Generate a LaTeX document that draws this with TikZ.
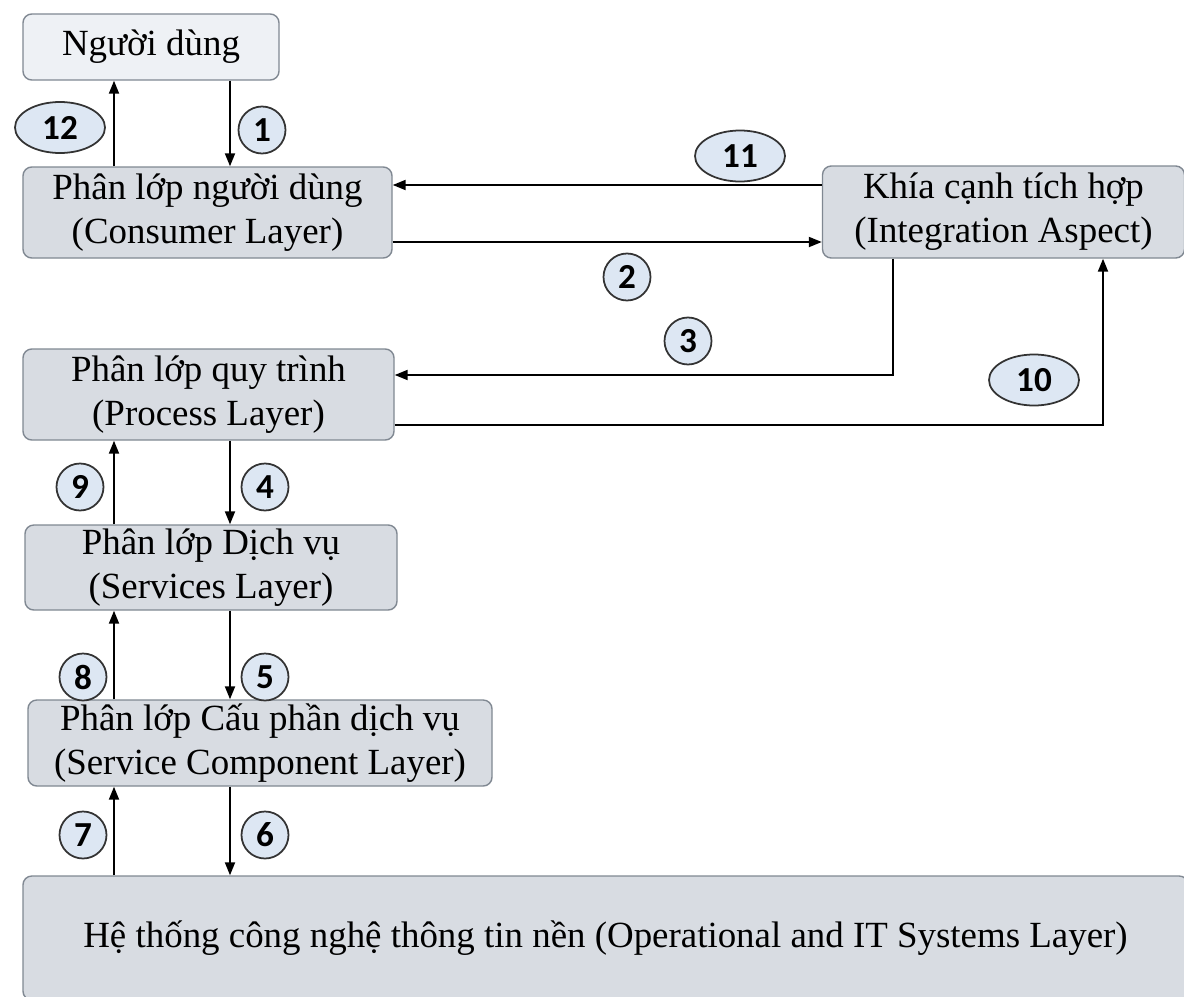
\documentclass[tikz,border=0pt]{standalone}
\usepackage{fontspec}
\setmainfont{Liberation Serif}
\newfontfamily\numfont{Carlito}
\usetikzlibrary{shapes.geometric,arrows.meta}

\definecolor{layerfill}{RGB}{216,220,226}
\definecolor{userfill}{RGB}{238,241,245}
\definecolor{edgegray}{RGB}{128,136,146}
\definecolor{numfill}{RGB}{221,231,243}

\begin{document}
\begin{tikzpicture}[
    layer/.style={draw=edgegray, line width=0.8pt, fill=layerfill, rounded corners=5pt,
        align=center, inner sep=0pt, font=\fontsize{21}{25}\selectfont},
    userbox/.style={layer, fill=userfill},
    num/.style={circle, draw=black!80, line width=1pt, fill=numfill, inner sep=0pt,
        minimum size=0.94cm, font=\numfont\bfseries\fontsize{20}{20}\selectfont},
    numoval/.style={num, ellipse, minimum width=1.8cm, minimum height=1.02cm},
    flow/.style={-{Triangle[length=2.6mm,width=2mm]}, line width=1.1pt}
]
\useasboundingbox (0,0) rectangle (23.68,-19.92);

% Boxes
\node[userbox, minimum width=5.12cm, minimum height=1.32cm] (nd) at (3.02,-0.94) {Người dùng};
\node[layer, minimum width=7.38cm, minimum height=1.82cm] (cl) at (4.15,-4.25)
    {Phân lớp người dùng\\(Consumer Layer)};
\node[layer, minimum width=7.24cm, minimum height=1.84cm] (ia) at (20.07,-4.24)
    {Khía cạnh tích hợp\\(Integration Aspect)};
\node[layer, minimum width=7.42cm, minimum height=1.82cm] (pl) at (4.17,-7.89)
    {Phân lớp quy trình\\(Process Layer)};
\node[layer, minimum width=7.44cm, minimum height=1.7cm] (sl) at (4.22,-11.35)
    {Phân lớp Dịch vụ\\(Services Layer)};
\node[layer, minimum width=9.28cm, minimum height=1.72cm] (sc) at (5.2,-14.86)
    {Phân lớp Cấu phần dịch vụ\\(Service Component Layer)};
\node[layer, minimum width=23.3cm, minimum height=2.48cm] (os) at (12.11,-18.76)
    {Hệ thống công nghệ thông tin nền (Operational and IT Systems Layer)};

% Axes of the vertical arrows and rows of the horizontal ones
\coordinate (up) at (2.28,0);
\coordinate (dn) at (4.6,0);
\coordinate (r11) at (0,-3.7);
\coordinate (r2) at (0,-4.84);
\coordinate (c3) at (17.86,-7.5);
\coordinate (c10) at (22.06,-8.5);

% Arrows between the layers
\draw[flow] (nd.south -| dn) -- (cl.north -| dn);
\draw[flow] (cl.north -| up) -- (nd.south -| up);
\draw[flow] (cl.east |- r2) -- (ia.west |- r2);
\draw[flow] (ia.west |- r11) -- (cl.east |- r11);
\draw[flow] (ia.south -| c3) |- (pl.east |- c3);
\draw[flow] (pl.east |- c10) -| (ia.south -| c10);
\draw[flow] (pl.south -| dn) -- (sl.north -| dn);
\draw[flow] (sl.north -| up) -- (pl.south -| up);
\draw[flow] (sl.south -| dn) -- (sc.north -| dn);
\draw[flow] (sc.north -| up) -- (sl.south -| up);
\draw[flow] (sc.south -| dn) -- (os.north -| dn);
\draw[flow] (os.north -| up) -- (sc.south -| up);

% Step numbers
\node[num] (n1) at (5.24,-2.6) {1};
\node[numoval] (n12) at (1.2,-2.55) {12};
\node[numoval] (n11) at (14.8,-3.12) {11};
\node[num] (n2) at (12.54,-5.54) {2};
\node[num] (n3) at (13.76,-6.82) {3};
\node[numoval] (n10) at (20.68,-7.6) {10};
\node[num] (n9) at (1.6,-9.74) {9};
\node[num] (n4) at (5.3,-9.74) {4};
\node[num] (n8) at (1.66,-13.54) {8};
\node[num] (n5) at (5.3,-13.54) {5};
\node[num] (n7) at (1.66,-16.7) {7};
\node[num] (n6) at (5.3,-16.7) {6};

\end{tikzpicture}
\end{document}
